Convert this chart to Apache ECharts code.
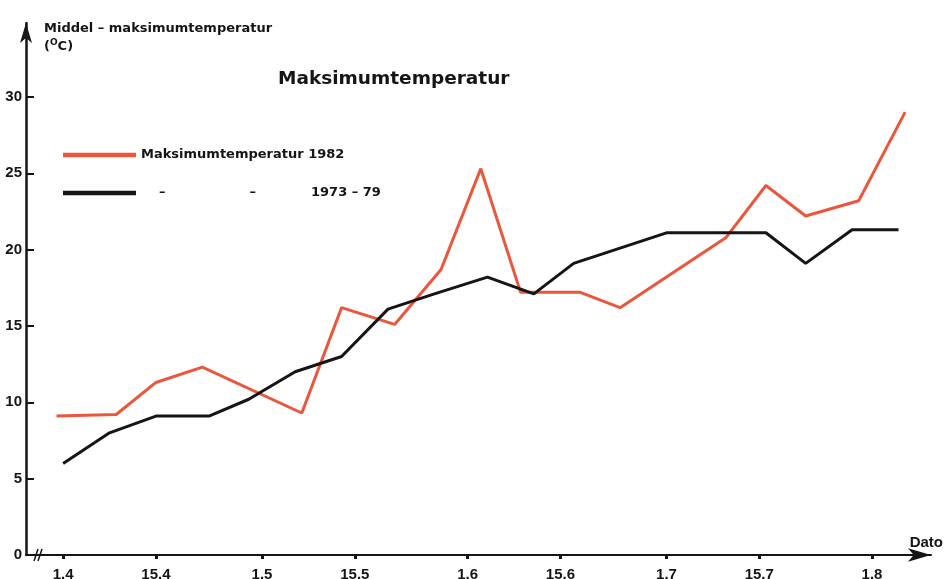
<!DOCTYPE html>
<html>
<head>
<meta charset="utf-8">
<title>Maksimumtemperatur</title>
<script src="https://cdn.jsdelivr.net/npm/echarts@6/dist/echarts.min.js"></script>
<style>
    html, body { margin: 0; padding: 0; background: #fff; }
    #chart { width: 944px; height: 579px; }
</style>
</head>
<body>
<div id="chart"></div>
<script>
'use strict';
// day of year (1982) for the x axis
var tickDays = [91, 105, 121, 135, 152, 166, 182, 196, 213];
var tickLabels = ['1.4', '15.4', '1.5', '15.5', '1.6', '15.6', '1.7', '15.7', '1.8'];
var yTicks = [0, 5, 10, 15, 20, 25, 30];

// Maksimumtemperatur 1982
var redDays = [90, 99, 105, 112, 127, 133, 141, 148, 154, 160, 169, 175, 191, 197, 203, 211, 218];
var redTemp = [9.1, 9.2, 11.3, 12.3, 9.3, 16.2, 15.1, 18.7, 25.3, 17.2, 17.2, 16.2, 20.8, 24.2, 22.2, 23.2, 29.0];

// middel 1973-79
var blackDays = [91, 98, 105, 113, 119, 126, 133, 140, 147, 155, 162, 168, 182, 197, 203, 210, 217];
var blackTemp = [6.0, 8.0, 9.1, 9.1, 10.2, 12.0, 13.0, 16.1, 17.1, 18.2, 17.1, 19.1, 21.1, 21.1, 19.1, 21.3, 21.3];

var FONT = 'DejaVu Sans';
var TICK_FONT = 'Liberation Sans';
var RED = '#e9573d';
var INK = '#151515';

function pairs(xs, ys) {
    return xs.map(function (x, i) {
        return [x, ys[i]];
    });
}

var option = {
    backgroundColor: '#fff',
    animation: false,
    title: {
        text: 'Maksimumtemperatur',
        left: 278,
        top: 70,
        padding: 0,
        textStyle: {
            fontFamily: FONT,
            fontSize: 18.5,
            fontWeight: 'bold',
            color: INK
        }
    },
    legend: {
        orient: 'vertical',
        left: 58,
        top: 143,
        icon: 'rect',
        itemWidth: 73,
        itemHeight: 4.5,
        itemGap: 24,
        textStyle: {
            fontFamily: FONT,
            fontSize: 13,
            fontWeight: 'bold',
            lineHeight: 14,
            color: INK,
            rich: {
                d1: { fontFamily: FONT, fontSize: 13, fontWeight: 'bold', color: INK, padding: [0, 0, 0, 18] },
                d2: { fontFamily: FONT, fontSize: 13, fontWeight: 'bold', color: INK, padding: [0, 0, 0, 84] },
                yr: { fontFamily: FONT, fontSize: 13, fontWeight: 'bold', color: INK, padding: [0, 0, 0, 55] }
            }
        },
        formatter: function (name) {
            if (name === 'Maksimumtemperatur 1973 – 79') {
                return '{d1|–}{d2|–}{yr|1973 – 79}';
            }
            return name;
        },
        data: ['Maksimumtemperatur 1982', 'Maksimumtemperatur 1973 – 79']
    },
    grid: {
        left: 26,
        right: 13,
        top: 23,
        bottom: 24,
        containLabel: false,
        outerBoundsMode: 'none'
    },
    xAxis: {
        type: 'value',
        min: 85.4,
        max: 221.9,
        splitLine: { show: false },
        name: 'Dato',
        nameLocation: 'end',
        nameGap: 12,
        nameTextStyle: {
            fontFamily: TICK_FONT,
            fontSize: 15,
            fontWeight: 'bold',
            color: INK,
            align: 'right',
            verticalAlign: 'bottom',
            padding: [0, 0, 5, 0]
        },
        axisLine: {
            lineStyle: { color: INK, width: 2 },
            symbol: ['none', 'arrow'],
            symbolSize: [10, 23]
        },
        axisTick: {
            customValues: tickDays,
            length: 4,
            lineStyle: { color: INK, width: 3 }
        },
        axisLabel: {
            customValues: tickDays,
            margin: 12,
            fontFamily: TICK_FONT,
            fontSize: 15,
            fontWeight: 'bold',
            color: INK,
            formatter: function (v) {
                var i = tickDays.indexOf(v);
                return i >= 0 ? tickLabels[i] : '';
            }
        }
    },
    yAxis: {
        type: 'value',
        min: 0,
        max: 34.84,
        splitLine: { show: false },
        name: '{t|Middel – maksimumtemperatur}\n{t|(}{s|O}{t|C)}',
        nameLocation: 'end',
        nameGap: 3,
        nameTextStyle: {
            align: 'left',
            verticalAlign: 'top',
            padding: [0, 0, 0, 18],
            rich: {
                t: { fontFamily: FONT, fontSize: 13, fontWeight: 'bold', color: INK, lineHeight: 18 },
                s: { fontFamily: FONT, fontSize: 9, fontWeight: 'bold', color: INK, lineHeight: 18, verticalAlign: 'top' }
            }
        },
        axisLine: {
            lineStyle: { color: INK, width: 2.5 },
            symbol: ['none', 'arrow'],
            symbolSize: [9, 20]
        },
        axisTick: {
            customValues: yTicks,
            inside: true,
            length: 8,
            lineStyle: { color: INK, width: 2 }
        },
        axisLabel: {
            customValues: yTicks,
            margin: 4,
            fontFamily: TICK_FONT,
            fontSize: 15,
            fontWeight: 'bold',
            color: INK
        }
    },
    // axis break mark near origin
    graphic: [
        { type: 'line', shape: { x1: 34, y1: 561, x2: 38, y2: 549 }, style: { stroke: INK, lineWidth: 1.5 } },
        { type: 'line', shape: { x1: 38, y1: 561, x2: 42, y2: 549 }, style: { stroke: INK, lineWidth: 1.5 } }
    ],
    series: [
        {
            name: 'Maksimumtemperatur 1982',
            type: 'line',
            symbol: 'none',
            showSymbol: false,
            lineStyle: { color: RED, width: 3 },
            itemStyle: { color: RED },
            data: pairs(redDays, redTemp)
        },
        {
            name: 'Maksimumtemperatur 1973 – 79',
            type: 'line',
            symbol: 'none',
            showSymbol: false,
            lineStyle: { color: INK, width: 3 },
            itemStyle: { color: INK },
            data: pairs(blackDays, blackTemp)
        }
    ]
};

var myChart = echarts.init(document.getElementById('chart'));
myChart.setOption(option);
</script>
</body>
</html>
